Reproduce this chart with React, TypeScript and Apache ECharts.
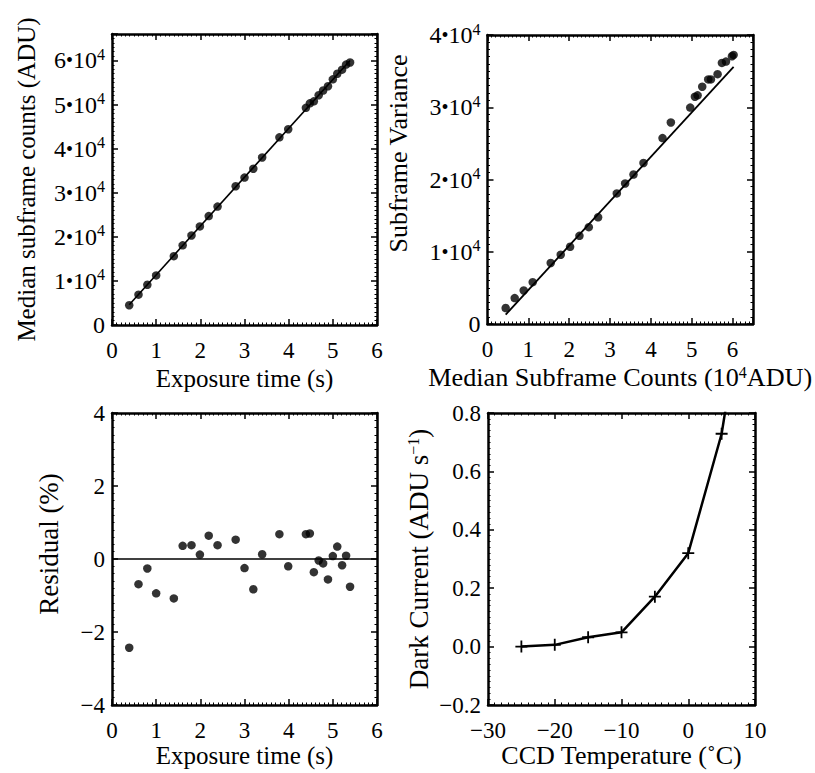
import React, { useEffect, useRef } from "react";
import * as echarts from "echarts";

// ---- Data ----
const exposureTimes = [0.39, 0.60, 0.80, 1.00, 1.40, 1.60, 1.80, 1.99, 2.19, 2.39, 2.80, 3.00, 3.20, 3.40, 3.79, 3.99, 4.39, 4.48, 4.57, 4.68, 4.78, 4.89, 5.00, 5.10, 5.21, 5.30, 5.39];
const medianCounts = [4490, 6880, 9120, 11250, 15620, 18070, 20300, 22360, 24700, 26860, 31470, 33440, 35440, 38000, 42560, 44400, 49250, 50270, 50730, 52110, 53180, 54160, 55720, 56980, 57910, 59060, 59540];
const countsFitX = [0.39, 5.39];
const countsFitY = [4600, 60000];

const residuals = [-2.43, -0.69, -0.26, -0.94, -1.08, 0.36, 0.38, 0.12, 0.64, 0.38, 0.53, -0.25, -0.83, 0.13, 0.68, -0.20, 0.68, 0.70, -0.36, -0.04, -0.12, -0.56, 0.08, 0.34, -0.17, 0.09, -0.76];
const residualZeroX = [0, 6];
const residualZeroY = [0, 0];

const varianceCounts = [0.445, 0.666, 0.887, 1.107, 1.548, 1.793, 2.022, 2.251, 2.480, 2.708, 3.166, 3.370, 3.574, 3.819, 4.285, 4.489, 4.963, 5.078, 5.143, 5.257, 5.404, 5.470, 5.633, 5.739, 5.838, 5.985, 6.025];
const varianceValues = [2210, 3590, 4640, 5790, 8450, 9590, 10690, 12200, 13400, 14770, 18070, 19450, 20690, 22290, 25730, 27890, 29950, 31460, 31650, 32840, 33850, 33850, 34580, 36140, 36320, 37060, 37240];
const varianceFitX = [0.445, 6.025];
const varianceFitY = [1290, 35590];

const ccdTemps = [-25, -20, -15, -10, -5, 0, 5, 10];
const darkCurrent = [0.0, 0.006, 0.032, 0.049, 0.171, 0.32, 0.729, 1.44];

const FONT = "Liberation Serif";
const BLACK = "#000";
const TICK_FS = 23;

const zip = (a: number[], b: number[]) => a.map((v, i) => [v, b[i]]);
const minus = (s: string) => s.replace("-", "\u2212");

const tenPowRich = {
  m: { fontSize: 24, fontFamily: FONT, color: BLACK, lineHeight: 28 },
  d: { fontSize: 20, fontFamily: FONT, color: BLACK, lineHeight: 28 },
  s: { fontSize: 16, fontFamily: FONT, color: BLACK, lineHeight: 16, verticalAlign: "top" },
};

function tenPowLabel(v: number, maxShown: number) {
  if (v === 0) return "{m|0}";
  if (v % 10000 !== 0 || v > maxShown) return "";
  return `{m|${v / 10000}}{d|\u2022}{m|10}{s|4}`;
}

type AxisOpts = {
  min: number;
  max: number;
  interval: number;
  formatter: (v: number) => string;
  name?: string;
  nameGap?: number;
  rich?: any;
  nameRich?: any;
  nameFontSize: number;
  namePadding?: number[];
};

function axisPair(kind: "x" | "y", gridIndex: number, o: AxisOpts) {
  const common = {
    type: "value",
    gridIndex,
    min: o.min,
    max: o.max,
    interval: o.interval,
    splitLine: { show: false },
    axisLine: { show: true, onZero: false, lineStyle: { color: BLACK, width: 2.5 } },
    axisTick: { show: true, inside: true, length: 6, lineStyle: { color: BLACK, width: 1.5 } },
    minorTick: { show: true, splitNumber: 10, length: 2.5, lineStyle: { color: BLACK, width: 1 } },
  };
  const main: any = {
    ...common,
    position: kind === "x" ? "bottom" : "left",
    axisLabel: {
      show: true,
      margin: kind === "x" ? 14 : 7,
      fontSize: TICK_FS,
      fontFamily: FONT,
      color: BLACK,
      formatter: o.formatter,
      showMinLabel: true,
      showMaxLabel: true,
      rich: o.rich,
    },
    name: o.name,
    nameLocation: "middle",
    nameGap: o.nameGap,
    nameTextStyle: {
      fontSize: o.nameFontSize,
      fontFamily: FONT,
      color: BLACK,
      rich: o.nameRich,
      padding: o.namePadding || 0,
    },
  };
  const opp: any = {
    ...common,
    position: kind === "x" ? "top" : "right",
    axisLabel: { show: false },
  };
  return [main, opp];
}

function buildOption() {
  const grids = [
    { left: 112, top: 34, width: 265, height: 291 },
    { left: 487.5, top: 35, width: 265.5, height: 289 },
    { left: 112, top: 413, width: 265, height: 292 },
    { left: 488, top: 413, width: 267, height: 292 },
  ];

  const intLabel = (v: number) => (Number.isInteger(v) ? minus(String(v)) : "");
  const supRich = (fs: number) => ({
    sup: { fontSize: fs, fontFamily: FONT, color: BLACK, verticalAlign: "top", lineHeight: fs },
  });

  const x1 = axisPair("x", 0, {
    min: 0, max: 6, interval: 1, formatter: intLabel,
    name: "Exposure time (s)", nameGap: 41, nameFontSize: 25,
  });
  const y1 = axisPair("y", 0, {
    min: 0, max: 66000, interval: 10000,
    formatter: (v) => tenPowLabel(v, 60000), rich: tenPowRich,
    name: "Median subframe counts (ADU)", nameGap: 73, nameFontSize: 25,
  });
  const x2 = axisPair("x", 1, {
    min: 0, max: 6.5, interval: 1, formatter: intLabel,
    name: "Median Subframe Counts (10{sup|4}ADU)", nameGap: 40, nameFontSize: 26.2, nameRich: supRich(16),
  });
  const y2 = axisPair("y", 1, {
    min: 0, max: 40000, interval: 10000,
    formatter: (v) => tenPowLabel(v, 40000), rich: tenPowRich,
    name: "Subframe Variance", nameGap: 76, nameFontSize: 26, namePadding: [0, 0, 0, 52],
  });
  const x3 = axisPair("x", 2, {
    min: 0, max: 6, interval: 1, formatter: intLabel,
    name: "Exposure time (s)", nameGap: 30, nameFontSize: 25,
  });
  const y3 = axisPair("y", 2, {
    min: -4, max: 4, interval: 2, formatter: intLabel,
    name: "Residual (%)", nameGap: 50, nameFontSize: 27, namePadding: [0, 0, 0, 30],
  });
  const x4 = axisPair("x", 3, {
    min: -30, max: 10, interval: 10, formatter: intLabel,
    name: "CCD Temperature (\u02DAC)", nameGap: 30, nameFontSize: 26,
  });
  const y4 = axisPair("y", 3, {
    min: -0.2, max: 0.8, interval: 0.2,
    formatter: (v) => minus((Math.round(v * 10) / 10).toFixed(1)),
    name: "Dark Current (ADU s{sup|\u22121})", nameGap: 56, nameFontSize: 27, nameRich: supRich(16),
  });

  const xAxis = [...x1, ...x2, ...x3, ...x4];
  const yAxis = [...y1, ...y2, ...y3, ...y4];

  const dot = (xi: number, data: number[][]) => ({
    type: "scatter",
    xAxisIndex: xi,
    yAxisIndex: xi,
    data,
    symbol: "circle",
    symbolSize: 8.5,
    itemStyle: { color: BLACK },
    z: 3,
  });
  const line = (xi: number, data: number[][], width: number) => ({
    type: "line",
    xAxisIndex: xi,
    yAxisIndex: xi,
    data,
    symbol: "none",
    lineStyle: { color: BLACK, width },
    clip: true,
    z: 2,
  });

  const plus = "path://M4.25,0H5.75V4.25H10V5.75H5.75V10H4.25V5.75H0V4.25H4.25Z";

  const series: any[] = [
    line(0, zip(countsFitX, countsFitY), 1.6),
    dot(0, zip(exposureTimes, medianCounts)),
    line(2, zip(varianceFitX, varianceFitY), 1.8),
    dot(2, zip(varianceCounts, varianceValues)),
    line(4, zip(residualZeroX, residualZeroY), 1.6),
    dot(4, zip(exposureTimes, residuals)),
    {
      type: "line",
      xAxisIndex: 6,
      yAxisIndex: 6,
      data: zip(ccdTemps, darkCurrent),
      symbol: plus,
      symbolSize: 12,
      showSymbol: true,
      itemStyle: { color: BLACK },
      lineStyle: { color: BLACK, width: 2.5 },
      clip: true,
    },
  ];

  return {
    animation: false,
    backgroundColor: "#fff",
    textStyle: { fontFamily: FONT, color: BLACK },
    grid: grids.map((g) => ({ ...g, containLabel: false, outerBoundsMode: "none" })),
    xAxis,
    yAxis,
    series,
  };
}

export default function App() {
  const ref = useRef<HTMLDivElement>(null);
  useEffect(() => {
    if (!ref.current) return;
    const chart = echarts.init(ref.current, null, { renderer: "svg" });
    chart.setOption(buildOption() as any);
    return () => chart.dispose();
  }, []);
  return (
    <div
      ref={ref}
      style={{ position: "absolute", left: 0, top: 0, width: 815, height: 773, background: "#fff" }}
    />
  );
}
